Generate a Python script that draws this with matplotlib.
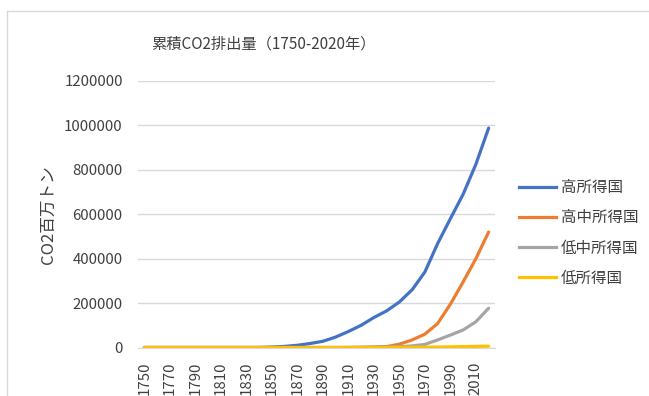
import matplotlib
matplotlib.use('Agg')
import matplotlib.pyplot as plt
from matplotlib.lines import Line2D

plt.rcParams['font.family'] = ['Noto Sans CJK JP', 'DejaVu Sans']

# data: cumulative CO2 (million t), every 10 years 1750-2020
years = list(range(1750, 2021, 10))
high = [0] * 10 + [2000, 5000, 10000, 18000, 28000, 47000, 72000, 100000,
                   135000, 165000, 205000, 260000, 340000, 468000, 580000,
                   690000, 825000, 988000]
upper_mid = [0] * 17 + [1000, 2000, 4000, 15000, 34000, 60000, 108000,
                        195000, 295000, 400000, 520000]
lower_mid = [0] * 17 + [500, 1000, 2000, 4000, 7000, 14000, 34000,
                        56000, 79000, 116000, 177000]
low = [0] * 20 + [500, 1000, 1500, 2000, 3000, 4000, 5000, 6000]

labels = ['高所得国', '高中所得国', '低中所得国', '低所得国']
colors = ['#4472C4', '#ED7D31', '#A5A5A5', '#FFC000']
series = [high, upper_mid, lower_mid, low]

fig = plt.figure(figsize=(6.49, 3.96), dpi=100)
ax = fig.add_axes([138 / 649, 1 - 347.5 / 396, (495 - 138) / 649, (347.5 - 81) / 396])

for vals, c in zip(series, colors):
    ax.plot(years, vals, color=c, linewidth=2.3, solid_capstyle='round')

ax.set_xlim(1745, 2025)
ax.set_ylim(0, 1200000)
ax.set_yticks(range(0, 1200001, 200000))
ax.set_yticklabels([str(v) for v in range(0, 1200001, 200000)], fontsize=10.8, color='#404040')
ax.set_xticks(years[::2])
ax.set_xticklabels([str(y) for y in years[::2]], rotation=90, fontsize=10.8, color='#404040')
ax.tick_params(axis='y', length=0, pad=11)
ax.tick_params(axis='x', length=0, pad=10)
ax.grid(axis='y', color='#D9D9D9', linewidth=1)
ax.set_axisbelow(True)
for s in ['top', 'right', 'left']:
    ax.spines[s].set_visible(False)
ax.spines['bottom'].set_color('#D9D9D9')

ax.set_ylabel('CO2百万トン', fontsize=12, color='#404040', labelpad=5)

fig.text(263 / 649, 1 - 44 / 396, '累積CO2排出量（1750-2020年）', ha='center', va='center',
         fontsize=11, color='#404040')

handles = [Line2D([], [], color=c, linewidth=2.3) for c in colors]
fig.legend(handles, labels, loc='center left', bbox_to_anchor=(505 / 649, 1 - 233 / 396),
           frameon=False, fontsize=11.2, labelcolor='#404040', handlelength=2.4,
           labelspacing=0.85, handletextpad=0.3)

# chart border
fig.add_artist(plt.Line2D([7 / 649, 1.0], [1 - 11 / 396, 1 - 11 / 396], color='#D9D9D9', linewidth=1,
                          transform=fig.transFigure))
fig.add_artist(plt.Line2D([7 / 649, 7 / 649], [0, 1 - 11 / 396], color='#D9D9D9', linewidth=1,
                          transform=fig.transFigure))

fig.savefig('out.png', dpi=100)
